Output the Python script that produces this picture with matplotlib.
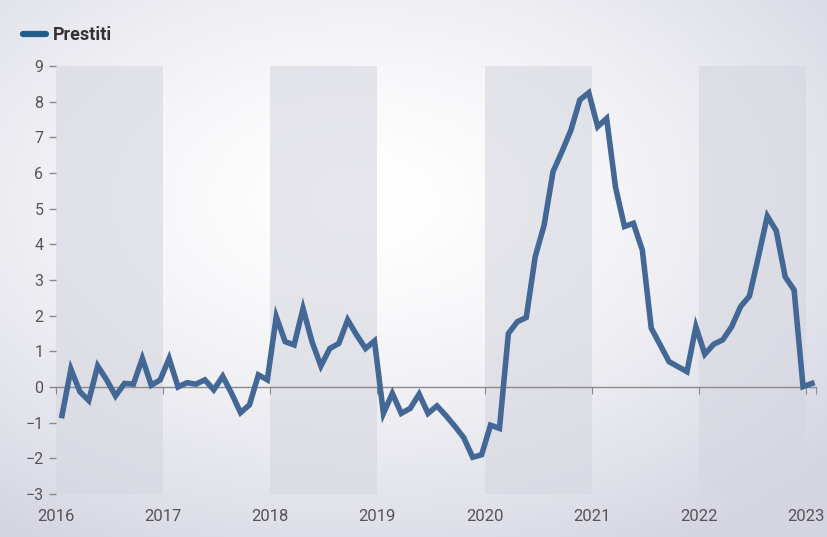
import numpy as np
import matplotlib.pyplot as plt
from matplotlib import font_manager
from matplotlib.lines import Line2D

# pick a narrow face if one is installed
names = {f.name for f in font_manager.fontManager.ttflist}
if 'Liberation Sans Narrow' in names:
    FONT, TICK_SIZE = 'Liberation Sans Narrow', 13
else:
    FONT, TICK_SIZE = 'Roboto', 11.5
plt.rcParams['font.family'] = [FONT, 'DejaVu Sans']

# monthly growth of loans, Jan 2016 - Jan 2023
prestiti = [
    # 2016
    -0.8, 0.5, -0.13, -0.38, 0.59, 0.2, -0.25, 0.1, 0.08, 0.8, 0.05, 0.2,
    # 2017
    0.8, 0.0, 0.12, 0.08, 0.2, -0.08, 0.3, -0.18, -0.72, -0.5, 0.34, 0.2,
    # 2018
    1.97, 1.27, 1.18, 2.2, 1.27, 0.59, 1.08, 1.22, 1.88, 1.46, 1.08, 1.29,
    # 2019
    -0.74, -0.18, -0.74, -0.6, -0.2, -0.74, -0.53, -0.8, -1.1, -1.42, -1.97, -1.9,
    # 2020
    -1.07, -1.16, 1.5, 1.83, 1.95, 3.65, 4.54, 6.04, 6.6, 7.2, 8.05, 8.25,
    # 2021
    7.3, 7.53, 5.6, 4.5, 4.59, 3.84, 1.65, 1.18, 0.71, 0.57, 0.43, 1.69,
    # 2022
    0.92, 1.2, 1.32, 1.69, 2.25, 2.55, 3.65, 4.79, 4.38, 3.09, 2.72, 0.01,
    # 2023
    0.1,
]
years = [2016, 2017, 2018, 2019, 2020, 2021, 2022, 2023]
shaded_years = [2016, 2018, 2020, 2022]
y_ticks = list(range(-3, 10))

x = 2016 + (np.arange(len(prestiti)) + 0.67) / 12

fig = plt.figure(figsize=(8.28, 5.37), dpi=100)

# soft radial background
bg = fig.add_axes([0, 0, 1, 1], zorder=-10)
h, w = 537, 828
yy, xx = np.mgrid[0:h, 0:w]
d = np.sqrt(((xx - 360) / 620) ** 2 + ((yy - 200) / 400) ** 2)
d = np.clip(d, 0, 1) ** 1.5
light = np.array([255, 255, 255]) / 255
dark = np.array([212, 213, 225]) / 255
img = light[None, None, :] * (1 - d[..., None]) + dark[None, None, :] * d[..., None]
bg.imshow(img, aspect='auto', interpolation='bilinear')
bg.axis('off')

ax = fig.add_axes([56 / 828, 43 / 537, 760 / 828, 428 / 537])
ax.patch.set_alpha(0)

for yr in shaded_years:
    ax.axvspan(yr, yr + 1, color='#d6d6e0', alpha=0.6, lw=0, zorder=0)

ax.plot(x, prestiti, color='#436895', lw=4.0, solid_joinstyle='miter', zorder=3)

ax.set_xlim(2016, 2016 + 760 / 107.14)
ax.set_ylim(-3, 9)

for s in ['top', 'right', 'left']:
    ax.spines[s].set_visible(False)
ax.spines['bottom'].set_position(('data', 0))
ax.spines['bottom'].set_color('#8a8a8a')
ax.spines['bottom'].set_linewidth(1.0)
ax.spines['bottom'].set_zorder(2)

ax.set_xticks(years + [2016 + 760 / 107.14])
ax.tick_params(axis='x', direction='out', length=5, color='#8a8a8a',
               labelbottom=False)

# year labels along the bottom edge
sec = ax.secondary_xaxis('bottom')
sec.set_xticks(years)
sec.spines['bottom'].set_visible(False)
sec.tick_params(length=0, pad=11, labelsize=TICK_SIZE + 0.5, labelcolor='#555555')

ax.set_yticks(y_ticks)
ax.tick_params(axis='y', direction='out', length=5, width=1, color='#8a8a8a',
               pad=4, labelsize=TICK_SIZE, labelcolor='#555555')

handle = Line2D([], [], color='#215d8c', lw=4.5, solid_capstyle='round')
fig.legend([handle], ['Prestiti'], loc='center left',
           bbox_to_anchor=(0.008, 1 - 35 / 537), frameon=False,
           handlelength=1.3, handletextpad=0.35,
           prop={'weight': 'bold', 'size': TICK_SIZE + 1.5},
           labelcolor='#333333')

fig.savefig('out.png', dpi=100)
